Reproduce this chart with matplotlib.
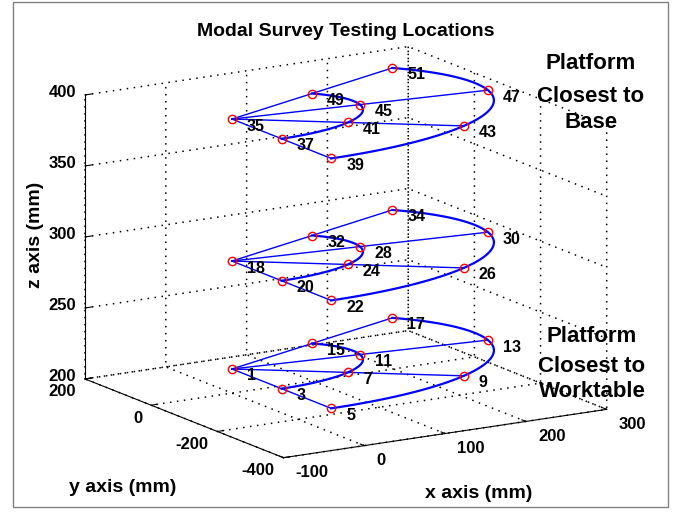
import numpy as np
import matplotlib
matplotlib.use("Agg")
import matplotlib.pyplot as plt
from matplotlib.patches import Rectangle
from mpl_toolkits.mplot3d import proj3d

plt.rcParams['font.family'] = ['Liberation Sans', 'DejaVu Sans']
plt.rcParams['font.weight'] = 'bold'
plt.rcParams['axes.unicode_minus'] = False

# test point layout (mm)
platform_z = [217, 293, 393]
hub_labels = [1, 18, 35]
inner_labels = [[3, 7, 11, 15], [20, 24, 28, 32], [37, 41, 45, 49]]
outer_labels = [[5, 9, 13, 17], [22, 26, 30, 34], [39, 43, 47, 51]]
ray_angles = [-90, -50, -10, 30]   # degrees around the hub
hub_x, hub_y = 0, 0
inner_r = 150
outer_r = 300

x_ticks = [-100, 0, 100, 200, 300]
y_ticks = [-400, -200, 0, 200]
z_ticks = [200, 250, 300, 350, 400]

W, H = 675, 512
fig = plt.figure(figsize=(W / 100, H / 100), dpi=100)
ax = fig.add_axes([0, 0, 1, 1], projection='3d')
ax.set_proj_type('ortho')
ax.view_init(elev=14.1, azim=-121.55)
ax.set_box_aspect((1, 1, 0.772))
ax.set_xlim(-100, 300)
ax.set_ylim(-400, 200)
ax.set_zlim(200, 400)
ax.set_xticks(x_ticks)
ax.set_yticks(y_ticks)
ax.set_zticks(z_ticks)
ax.tick_params(axis='x', labelbottom=False)
ax.tick_params(axis='y', labelleft=False)
ax.tick_params(axis='z', labelleft=False)

for axis in (ax.xaxis, ax.yaxis, ax.zaxis):
    axis.label.set_visible(False)
    axis.offsetText.set_visible(False)
    axis.set_pane_color((1, 1, 1, 0))
    axis.pane.set_edgecolor((1, 1, 1, 0))
    axis._axinfo['grid'].update(color='k', linewidth=1.1, linestyle=(0, (1, 3.6)))
    axis._axinfo['tick']['inward_factor'] = 0.0
    axis._axinfo['tick']['outward_factor'] = 0.25
    axis.line.set_color('k')
    axis.line.set_linewidth(0.8)

rad = np.deg2rad(ray_angles)
arc_t = np.deg2rad(np.linspace(ray_angles[0], ray_angles[-1], 60))

# (x, y, z, text, dx px, dy px down, ha, size)
labels = []
for k, z in enumerate(platform_z):
    ix = hub_x + inner_r * np.cos(rad)
    iy = hub_y + inner_r * np.sin(rad)
    ox = hub_x + outer_r * np.cos(rad)
    oy = hub_y + outer_r * np.sin(rad)
    # rays from hub to outer points
    for j in range(len(rad)):
        ax.plot([hub_x, ox[j]], [hub_y, oy[j]], [z, z], color='b', lw=1.0)
    # inner and outer arcs
    for r in (inner_r, outer_r):
        ax.plot(hub_x + r * np.cos(arc_t), hub_y + r * np.sin(arc_t),
                np.full(arc_t.size, z), color='b', lw=1.6)
    px = np.concatenate([[hub_x], ix, ox])
    py = np.concatenate([[hub_y], iy, oy])
    ax.plot(px, py, np.full(px.size, z), 'o', mfc='none', mec='r', ms=6, mew=1)
    labs = [hub_labels[k]] + inner_labels[k] + outer_labels[k]
    for xx, yy, s in zip(px, py, labs):
        labels.append((xx, yy, z, str(s), 15, 7, 'left', 11.5))

# tick labels placed the way MATLAB does
for xt in x_ticks:
    labels.append((xt, y_ticks[0], z_ticks[0], str(xt), 12, 15, 'left', 12))
for yt in y_ticks:
    labels.append((x_ticks[0], yt, z_ticks[0], str(yt), -9, 13, 'right', 12))
for zt in z_ticks:
    labels.append((x_ticks[0], y_ticks[-1], zt, str(zt), -9, -2, 'right', 12))

# fit the projected box onto the reference pixel corners
fig.canvas.draw()


def to_px(x, y, z):
    xs, ys, _ = proj3d.proj_transform(x, y, z, ax.get_proj())
    return ax.transData.transform((xs, ys))


left = to_px(-100, 200, 200)
right = to_px(300, -400, 200)
top = to_px(300, 200, 400)
front = to_px(-100, -400, 200)
tgt_l, tgt_r, tgt_t, tgt_f = (85, 133), (606.7, 102.7), (409.4, 465.4), (283.3, 54.3)
s = 0.5 * ((tgt_r[0] - tgt_l[0]) / (right[0] - left[0]) +
           (tgt_t[1] - tgt_f[1]) / (top[1] - front[1]))
pos = ax.get_position()
size = pos.width * W
cx, cy = (pos.x0 + pos.width / 2) * W, (pos.y0 + pos.height / 2) * H
act_mid = np.array([(left[0] + right[0]) / 2, (front[1] + top[1]) / 2])
tgt_mid = np.array([(tgt_l[0] + tgt_r[0]) / 2, (tgt_f[1] + tgt_t[1]) / 2])
new_c = tgt_mid - s * (act_mid - np.array([cx, cy]))
new_size = size * s
ax.set_position([(new_c[0] - new_size / 2) / W, (new_c[1] - new_size / 2) / H,
                 new_size / W, new_size / H])
fig.canvas.draw()

for x, y, z, txt, dx, dy, ha, fs in labels:
    p = to_px(x, y, z)
    fig.text((p[0] + dx) / W, (p[1] - dy) / H, txt, fontsize=fs, ha=ha, va='center')

fig.text(346 / W, 1 - 31 / H, 'Modal Survey Testing Locations', fontsize=14,
         ha='center', va='center')
fig.text(36 / W, 1 - 235 / H, 'z axis (mm)', fontsize=14, rotation=90,
         ha='center', va='center')
fig.text(123 / W, 1 - 488 / H, 'y axis (mm)', fontsize=14, ha='center', va='center')
fig.text(479 / W, 1 - 494 / H, 'x axis (mm)', fontsize=14, ha='center', va='center')

for txt, yy in zip(['Platform', 'Closest to', 'Base'], [69, 102, 128]):
    fig.text(591 / W, 1 - yy / H, txt, fontsize=16, ha='center', va='baseline')
for txt, yy in zip(['Platform', 'Closest to', 'Worktable'], [342, 372, 397]):
    fig.text(592 / W, 1 - yy / H, txt, fontsize=16, ha='center', va='baseline')

fig.patches.append(Rectangle((13 / W, 5 / H), 655 / W, 505 / H, transform=fig.transFigure,
                             fill=False, edgecolor='#808080', lw=1))

fig.savefig('out.png', dpi=100)
